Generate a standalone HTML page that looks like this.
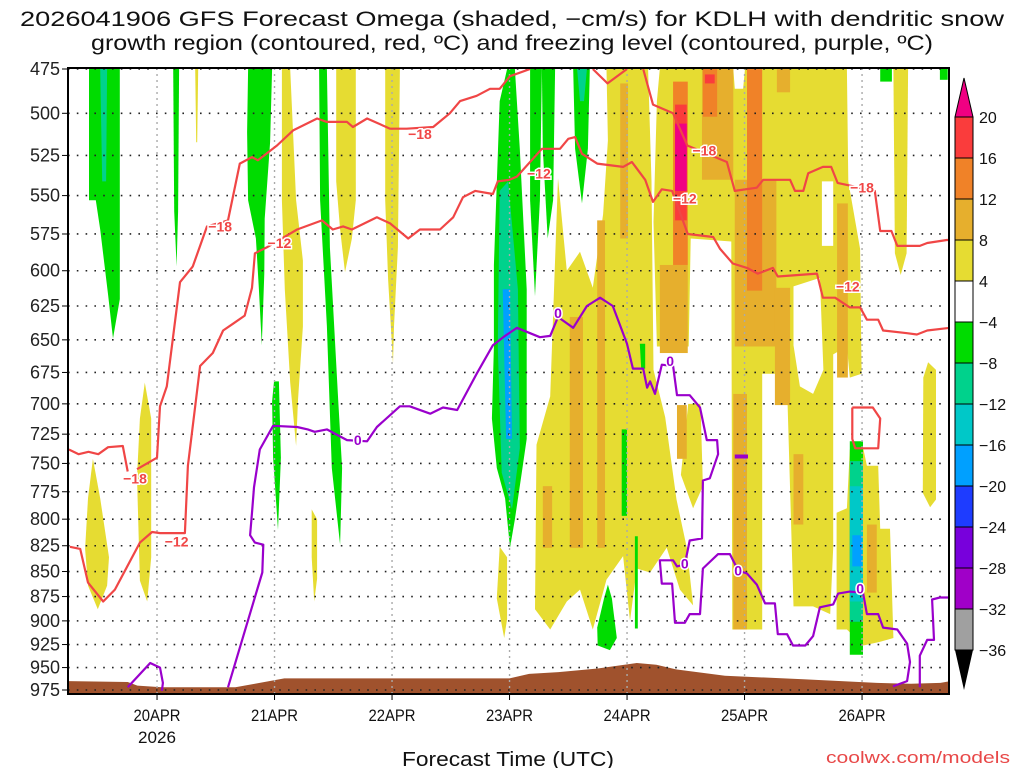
<!DOCTYPE html>
<html><head><meta charset="utf-8"><style>
html,body{margin:0;padding:0;background:#fff;}
svg{display:block;font-family:"Liberation Sans",sans-serif;}
</style></head><body>
<svg id="chart" width="1024" height="768" viewBox="0 0 1024 768" xmlns="http://www.w3.org/2000/svg">
<defs><clipPath id="plotclip"><rect x="68" y="68" width="881" height="626"/></clipPath></defs>
<g>
<text x="512" y="26" text-anchor="middle" font-size="21" textLength="984" lengthAdjust="spacingAndGlyphs" fill="#111">2026041906 GFS Forecast Omega (shaded, −cm/s) for KDLH with dendritic snow</text>
<text x="512" y="50" text-anchor="middle" font-size="21" textLength="842" lengthAdjust="spacingAndGlyphs" fill="#111">growth region (contoured, red, ºC) and freezing level (contoured, purple, ºC)</text>
</g>
<g id="plot" clip-path="url(#plotclip)"></g>
<g id="overlay"></g>
<g id="cbar"></g>
<text x="508" y="766" text-anchor="middle" font-size="20" textLength="212" lengthAdjust="spacingAndGlyphs" fill="#111">Forecast Time (UTC)</text>
<text x="1010" y="763" text-anchor="end" font-size="17" textLength="184" lengthAdjust="spacingAndGlyphs" fill="#e84848">coolwx.com/models</text>
</svg>
<script>
// ---------- data ----------
const pressureTicks=[475,500,525,550,575,600,625,650,675,700,725,750,775,800,825,850,875,900,925,950,975];
const dayHours=[18,42,66,90,114,138,162];
const dayLabels=["20APR","21APR","22APR","23APR","24APR","25APR","26APR"];
const levelColors={"-12":"#00dc00","-16":"#00d28c","-20":"#00c8c8","-24":"#00a0ff","8":"#e6dc32","12":"#e6af2d","16":"#f08228","20":"#fa3c3c","24":"#f00082","0":"#ffffff"};
const cbarLabels=["20","16","12","8","4","−4","−8","−12","−16","−20","−24","−28","−32","−36"];
const cbarColors=["#fa3c3c","#f08228","#e6af2d","#e6dc32","#ffffff","#00dc00","#00d28c","#00c8c8","#00a0ff","#1e3cff","#7800dc","#a000c8","#a0a0a0"];

// shaded omega regions: [level, [hour, hPa] ...]
const greenA=[-12,[[4.1,475],[10.4,475],[10.4,620],[9,649],[8,617],[6.4,572],[5.5,553],[4.1,553]]];
const tealA=[-16,[[6.4,475],[7.8,475],[7.6,541],[6.8,541]]];
const greenB=[-12,[[21.3,475],[22.5,475],[22.3,560],[22,597],[21.5,560]]];
const yellowS=[8,[[25.8,475],[26.4,475],[26.2,517],[26,517]]];
const greenC=[-12,[[36.6,475],[41.5,475],[41.1,517],[40,565],[39.9,602],[39.4,654],[38.8,613],[38.2,578],[36.6,553],[36.4,511]]];
const yellowD=[8,[[43.5,475],[45.2,475],[46.4,553],[47.8,593],[47.8,640],[46.8,697],[46.4,735],[45.2,683],[44.1,613],[43.5,553]]];
const greenE=[-12,[[51.1,475],[52.7,475],[53.3,584],[55,697],[55.8,754],[55.4,824],[53.7,754],[52.7,640],[51.3,553]]];
const yellowF=[8,[[54.6,475],[58.6,475],[58.6,553],[57.8,578],[56.4,601],[55.4,572],[54.6,541]]];
const yellowG=[8,[[64.6,475],[67.6,475],[67.2,584],[66.4,640],[66.2,668],[65.2,606],[64.6,553]]];
const greenH=[-12,[[41.9,682],[42.9,682],[43.3,745],[42.7,810],[41.7,745],[41.5,698]]];
const yellowI=[8,[[4.9,746],[6.4,781],[8.2,836],[7.8,864],[5.9,888],[3.9,864],[3.3,828],[3.9,781]]];
const yellowJ=[8,[[15.5,683],[16.8,712],[16.8,836],[16,880],[14.5,859],[13.9,762],[14.5,712]]];
const yellowK=[8,[[49.6,791],[50.7,800],[50.7,857],[50.1,880],[49.6,836]]];
const yellowL=[8,[[88,826],[89.5,836],[89.5,898],[88.9,918],[87.4,877]]];
const yellowA=[8,[[109.8,475],[118.3,475],[119,541],[119.4,673],[121.8,711],[124.1,782],[126.2,827],[127.5,884],[124.8,868],[122.1,827],[118.7,851],[116,847],[114.6,900],[113.2,835],[109.8,858],[107,909],[104.4,868],[101.7,880],[98.3,909],[95.2,888],[95.5,734],[98.3,694],[99.9,539],[101.7,600],[104.4,587],[107,612],[109.1,562],[110.1,516]]];
const yellowB=[8,[[120.7,475],[135.7,475],[136,486],[137.7,486],[138.1,475],[158.9,475],[159.2,541],[161.6,585],[161.9,676],[159.5,679],[158.9,655],[156.1,661],[156.1,827],[155.5,893],[152,885],[148,885],[146.6,676],[141.6,676],[141.6,909],[135.5,909],[135.3,580],[127,578],[126.6,655],[120.1,655],[119.4,567],[120.1,493]]];
const yellowH=[8,[[126.5,700],[129,700],[129.5,770],[127.5,790],[125,760]]];
const whiteW2=[0,[[148,611],[153.4,605],[154.1,673],[152,692],[149.3,686],[148,654]]];
const whiteW3=[0,[[153.8,541],[156.1,541],[156.1,583],[153.8,583]]];
const yellowC=[8,[[168.4,475],[171.4,475],[171.1,588],[169.9,603],[168.7,588]]];
const yellowDr=[8,[[174.5,679],[175.5,667],[177.1,673],[177.1,782],[175.9,789],[174.4,776]]];
const yellowE=[8,[[156.8,794],[158.9,790],[159.5,738],[162.3,738],[163,752],[165.3,752],[165.7,809],[167.7,809],[168.4,918],[165.7,922],[162.3,926],[158.9,909],[156.8,909]]];
const green23=[-12,[[86.8,596],[88,493],[89.5,475],[91.1,475],[92.1,521],[93.5,613],[93.5,729],[92.5,758],[91.1,800],[90.1,827],[89.1,781],[87.4,754],[86.4,712],[86.8,655]]];
const teal23=[-16,[[88,547],[89.7,541],[91.7,613],[92.1,737],[90.5,791],[88.4,758],[87.6,655]]];
const blue23=[-24,[[88.6,613],[90.1,613],[90.5,729],[89.3,729]]];
const greenS1=[-12,[[94.2,475],[96.6,475],[96.2,553],[95.2,618],[94.2,553]]];
const greenS2=[-12,[[96.6,475],[99.3,475],[98.9,553],[97.8,578],[96.8,521]]];
const greenS3=[-12,[[103,475],[106.4,475],[106,521],[104.8,555],[103.4,521]]];
const tealS3=[-16,[[103.8,475],[105.8,475],[105.2,493],[104.4,493]]];
const greenDrop=[-12,[[110.1,863],[110.9,877],[111.9,918],[110.5,931],[108,926],[107.9,907],[109.3,877]]];
const greenT1=[-12,[[116.6,653],[117.7,653],[117.7,672],[116.9,672]]];
const greenT2=[-12,[[112.9,721],[114,721],[114,797],[112.9,797]]];
const greenT3=[-12,[[115.6,816],[116.2,816],[116.2,908],[115.6,908]]];
const green26=[-12,[[159.5,731],[162.2,731],[162.2,936],[159.5,936]]];
const teal26=[-16,[[159.5,748],[162.2,748],[162.2,901],[159.5,901]]];
const cyan26=[-20,[[159.5,770],[162.2,770],[162.2,880],[159.5,880]]];
const blue26=[-24,[[160,815],[162,815],[162,845],[160,845]]];
const greenC1=[-12,[[165.7,475],[168.1,475],[168.1,482],[165.7,482]]];
const greenC2=[-12,[[177.9,475],[179.5,475],[179.5,481],[177.9,481]]];
// rectangular stripes: [level, h0, h1, pTop, pBottom]
const stripes=[
 [12,120.7,126.4,596,660],[12,124.2,126.2,701,746],[16,123.4,126.4,482,596],[20,123.8,126.2,495,566],[24,123.8,126.2,506,547],
 [12,129.3,135.7,475,540],[16,129.5,132.4,475,502],[20,129.9,131.9,478,483],
 [12,136,144.5,540,655],[16,138.5,141.6,475,614],[12,144.2,147.3,612,701],[12,135.7,138.5,692,909],
 [12,148,150,742,805],[12,156.9,159.1,555,679],[12,163,165,805,871],[12,144.6,147.3,475,488],
 [12,112.6,114.2,483,578],[12,102.3,105,633,827],[12,107.9,109.5,566,827],[12,96.8,98.7,770,827]
];
const shadeOrder=[yellowA,yellowB,yellowH,whiteW2,whiteW3,yellowC,yellowDr,yellowE,yellowL,yellowS,yellowD,yellowF,yellowG,yellowI,yellowJ,yellowK,greenA,tealA,greenB,greenC,greenE,greenH,green23,teal23,blue23,greenS1,greenS2,greenS3,tealS3,greenDrop,greenT1,greenT2,greenT3,green26,teal26,cyan26,blue26,greenC1,greenC2];

// terrain (surface pressure)
const terrainHours=[0,12,14,19,28,34,38,44,60,90,94,100,108,112,116,120,124,134,150,165,172,178,180];
const terrainPres=[965,966,970,972,972,972,968,962,962,962,957,955,951,948,945,947,952,959,963,967,968,967,965];

// contours [hour, hPa]
const m18a=[[0,738],[2,742],[4,740],[6,742],[8,736],[11,735],[12,757]];
const m18b=[[13.9,755],[18,745],[18.6,702],[20,686],[22.7,608],[25.3,597],[28.2,570],[32.5,566],[34.9,530],[37.4,526],[38.6,528],[42.5,519],[45.8,510],[50.7,503],[52.7,505],[56.8,505],[58,508],[60.9,503],[65.6,509],[69,509],[74.4,508],[77.8,500],[79.9,493],[83.3,490],[86,486],[88,486],[90.1,479],[94.2,475]];
const m18c=[[107,475],[110,483],[114,475]];
const m18d=[[117.3,475],[119.3,495],[123.4,500],[126.3,519],[134.4,529],[136,547],[140.5,545],[141.8,540],[147.3,540],[148.3,547],[150,547],[151,536],[154,532],[155.7,532],[157,542],[164.6,547],[165.7,573],[168,573],[169.2,583],[173.8,583],[175.3,581],[179.3,579],[180,579]];
const m12a=[[0.2,826],[2.3,828],[3.9,861],[7,880],[9.4,868],[14.5,822],[17,812],[18.6,813],[23.7,813],[24.3,752],[25.8,702],[26.8,670],[29.4,660],[31.5,643],[33.5,638],[35.9,632],[37.4,612],[38,588],[40.4,584],[46.6,572],[51.7,566],[53.9,572],[56,570],[57.8,572],[62.9,564],[65.6,568],[69.3,578],[71.7,572],[75.8,572],[78.5,564],[80.5,551],[83,547],[86.6,549],[87.6,541],[90,540],[91.5,538],[96.6,521],[100.3,521],[102,515],[103.4,514],[104.8,524],[107.9,530],[113.2,532],[115,529],[117.7,540],[119.3,554],[121.1,546],[123.2,547],[126.4,575],[131.6,577],[133,585],[135.6,595],[138.5,598],[140.7,602],[143.8,598],[144.8,604],[152.8,602],[154,619],[156.5,619],[159.5,626],[161.6,626],[163,635],[165.3,635],[166.3,643],[171.2,645],[173.2,646],[175.3,643],[180,641]];
const m12b=[[160,703],[164.2,703],[165.7,712],[165.3,737],[160.6,737],[160,729],[160,703]];
const zeroA=[[32.5,972],[39.5,851],[39.7,824],[38,822],[37,815],[37.4,794],[37.8,771],[39,738],[41.7,718],[46.6,719],[48.8,721],[50.2,723],[52.7,721],[56.8,730],[60.9,731],[62.9,719],[67.6,702],[69.6,702],[73.8,708],[76.4,703],[79.3,705],[83.3,676],[86.6,654],[88.7,648],[91.5,641],[94.2,645],[96.2,648],[98.3,647],[99.9,633],[103,641],[105.8,625],[108.5,619],[111.1,625],[114,653],[115.2,672],[117.3,672],[118.1,687],[118.7,682],[119.7,692],[121.1,669],[123.4,670],[124.2,693],[126.8,693],[128.9,703],[130.3,730],[132.4,730],[132.6,742],[130.9,763],[129.5,765],[129.3,818],[126.8,820],[125.8,843],[124.2,845],[123.4,839],[120.7,839],[121.1,862],[123.2,862],[123.8,902],[125.8,902],[126.8,893],[128.9,893],[129.5,847],[132.6,833],[135,833],[136.7,849],[138.5,852],[140.5,863],[142.2,882],[144.2,882],[144.8,914],[146.7,914],[147.9,926],[150.4,926],[152,916],[153.4,886],[156.1,883],[157.1,872],[159.5,870],[162.2,871],[163,893],[165.3,893],[166.3,907],[169.2,909],[171.2,924],[171.8,944],[171.2,965],[168.3,971]];
const zeroB=[[173.8,972],[173.8,937],[175.3,920],[176.7,920],[176.3,878],[177.9,876],[180,876]];
const zeroC=[[12,972],[16.6,945],[18.6,950],[19.2,967],[19,976]];
const zeroD=[[136,744],[138.7,744]];
const m18Labels=[[13.5,763],[30.9,570],[71.7,512],[129.8,522],[162,545]];
const m12Labels=[[22,821],[43,581],[96,536],[125.8,552],[159.1,611]];
const zeroLabels=[[59,730],[99.9,630],[122.8,666],[125.8,842],[136.7,849],[161.6,867]];

// ---------- axes ----------
const X0=68.9,XPH=4.896,Y0=69,YH=621,PT=475,PB=975;
const xs=h=>X0+h*XPH;
const ys=p=>Y0+Math.log(p/PT)/Math.log(PB/PT)*YH;
const NS="http://www.w3.org/2000/svg";
function mk(tag,attrs,parent){const e=document.createElementNS(NS,tag);for(const k in attrs)e.setAttribute(k,attrs[k]);parent.appendChild(e);return e;}
const plot=document.getElementById('plot'),ov=document.getElementById('overlay'),cb=document.getElementById('cbar');
const ptsStr=a=>a.map(d=>xs(d[0]).toFixed(1)+','+ys(d[1]).toFixed(1)).join(' ');

// shading
shadeOrder.forEach((r,i)=>{
  const e=mk('polygon',{points:ptsStr(r[1]),fill:levelColors[String(r[0])]},plot);
  
  
});
stripes.forEach((s,i)=>{
  const e=mk('rect',{x:xs(s[1]),y:ys(s[3]),width:xs(s[2])-xs(s[1]),height:ys(s[4])-ys(s[3]),fill:levelColors[String(s[0])]},plot);
  
  
});
// terrain
{
  const pts=terrainHours.map((h,i)=>[h,terrainPres[i]]);
  pts.push([180,1000]);pts.push([0,1000]);
  const e=mk('polygon',{points:ptsStr(pts),fill:'#a0522d'},plot);
  
  
}
// grid
pressureTicks.forEach(p=>{
  const e=mk('line',{x1:68,x2:949,y1:ys(p),y2:ys(p),stroke:'#222','stroke-width':1.6,'stroke-dasharray':'1.6,7.2'},plot);
  
  
});
dayHours.forEach(h=>{
  const e=mk('line',{x1:xs(h),x2:xs(h),y1:68,y2:694,stroke:'#aaa','stroke-width':1.4,'stroke-dasharray':'2,4'},plot);
  
  
});
// contours
function line(a,color,name){
  const e=mk('polyline',{points:ptsStr(a),fill:'none',stroke:color,'stroke-width':2.2,'stroke-linejoin':'round'},plot);
  
  
}
[m18a,m18b,m18c,m18d].forEach(a=>line(a,'#f04646','contour-minus18'));
[m12a,m12b].forEach(a=>line(a,'#f04646','contour-minus12'));
[zeroA,zeroB,zeroC].forEach(a=>line(a,'#9a00cc','freezing-level-contour'));
{const e=mk('polyline',{points:ptsStr(zeroD),fill:'none',stroke:'#9a00cc','stroke-width':4},plot);

}
function labels(arr,txt,color,name){
  arr.forEach(d=>{
    const t=mk('text',{x:xs(d[0]),y:ys(d[1])+5,'text-anchor':'middle','font-size':14,'font-weight':'bold',fill:color,stroke:'#fff','stroke-width':3,'paint-order':'stroke'},plot);
    t.textContent=txt;
    
    
  });
}
labels(m18Labels,'−18','#f04646','contour-label-minus18');
labels(m12Labels,'−12','#f04646','contour-label-minus12');
labels(zeroLabels,'0','#9a00cc','contour-label-zero');

// frame and ticks
{const e=mk('rect',{x:68,y:68,width:881,height:626,fill:'none',stroke:'#000','stroke-width':2},ov);
}
pressureTicks.forEach(p=>{
  mk('line',{x1:62,x2:68,y1:ys(p),y2:ys(p),stroke:'#000','stroke-width':1},ov);
  const t=mk('text',{x:60,y:ys(p)+6,'text-anchor':'end','font-size':18,fill:'#222'},ov);
  t.textContent=p;
  
  
});
dayHours.forEach((h,i)=>{
  mk('line',{x1:xs(h),x2:xs(h),y1:694,y2:700,stroke:'#000','stroke-width':1},ov);
  const t=mk('text',{x:xs(h),y:721,'text-anchor':'middle','font-size':17,textLength:47,lengthAdjust:'spacingAndGlyphs',fill:'#111'},ov);
  t.textContent=dayLabels[i];
  
  
});
{const t=mk('text',{x:xs(dayHours[0]),y:743,'text-anchor':'middle','font-size':17,textLength:38,lengthAdjust:'spacingAndGlyphs',fill:'#111'},ov);
t.textContent='2026';}

// colorbar
const CBX=955,CBW=18,CBT=117,CBS=41.0;
{const e=mk('polygon',{points:`${CBX},${CBT} ${CBX+CBW},${CBT} ${CBX+CBW/2},78`,fill:'#f00082',stroke:'#000','stroke-width':1},cb);
}
cbarColors.forEach((c,i)=>{
  const e=mk('rect',{x:CBX,y:CBT+i*CBS,width:CBW,height:CBS,fill:c,stroke:'#000','stroke-width':1},cb);
  
  
});
{const yb=CBT+cbarColors.length*CBS;
const e=mk('polygon',{points:`${CBX},${yb} ${CBX+CBW},${yb} ${CBX+CBW/2},${yb+40}`,fill:'#000'},cb);
}
cbarLabels.forEach((l,i)=>{
  const t=mk('text',{x:979,y:CBT+i*CBS+6,'font-size':16,fill:'#111'},cb);
  t.textContent=l;
  
  
});
</script>
</body></html>
